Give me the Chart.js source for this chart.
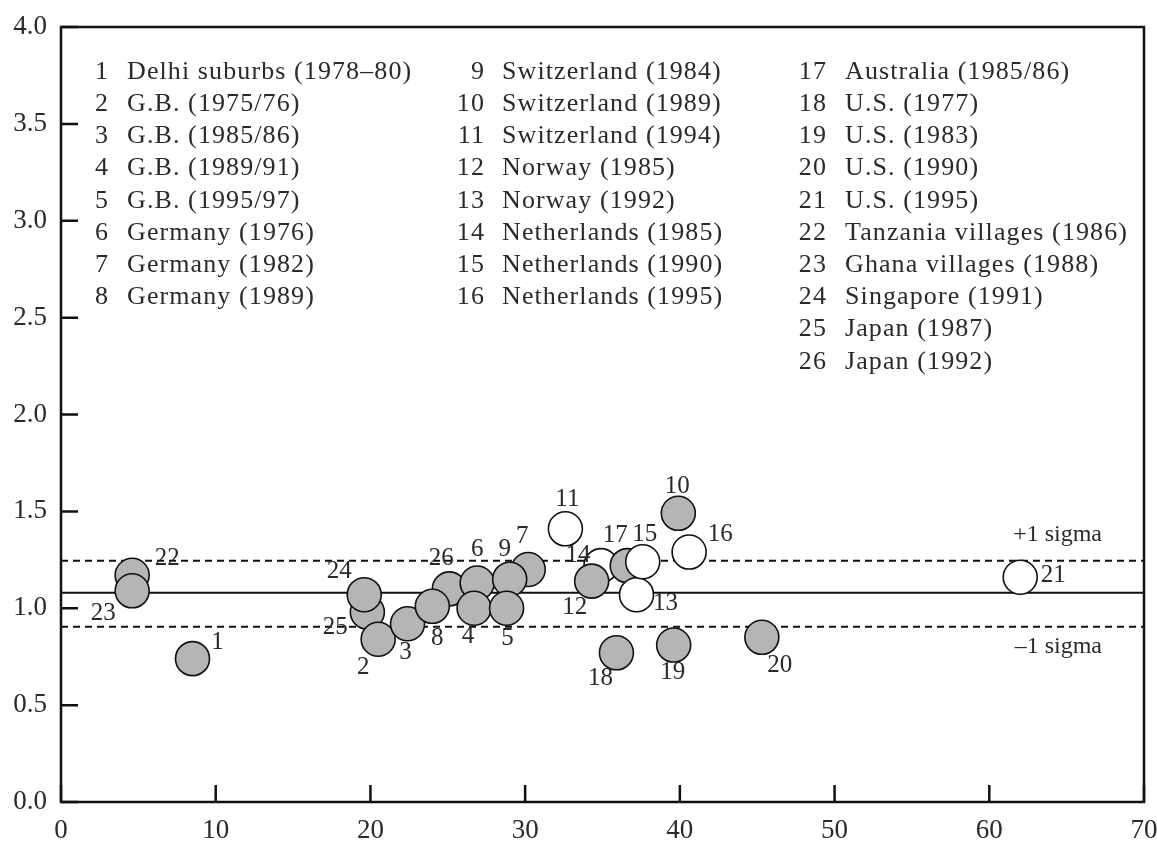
<!DOCTYPE html>
<html>
<head>
<meta charset="utf-8">
<title>Ratio by country</title>
<script src="https://cdn.jsdelivr.net/npm/chart.js@4/dist/chart.umd.min.js"></script>
<style>
  html, body { margin: 0; padding: 0; background: #fff; }
  #wrap { width: 1157px; height: 846px; position: relative; }
</style>
</head>
<body>
<div id="wrap"><canvas id="chart"></canvas></div>
<script>
/* ===== data ===== */

// survey names, in id order 1..26
const surveyNames = [
  'Delhi suburbs (1978\u201380)', 'G.B. (1975/76)', 'G.B. (1985/86)', 'G.B. (1989/91)',
  'G.B. (1995/97)', 'Germany (1976)', 'Germany (1982)', 'Germany (1989)',
  'Switzerland (1984)', 'Switzerland (1989)', 'Switzerland (1994)', 'Norway (1985)',
  'Norway (1992)', 'Netherlands (1985)', 'Netherlands (1990)', 'Netherlands (1995)',
  'Australia (1985/86)', 'U.S. (1977)', 'U.S. (1983)', 'U.S. (1990)', 'U.S. (1995)',
  'Tanzania villages (1986)', 'Ghana villages (1988)', 'Singapore (1991)',
  'Japan (1987)', 'Japan (1992)'
];

// points, listed in drawing order (later ones sit on top)
const pointIds = [22, 23, 1, 25, 24, 2, 3, 26, 8, 6, 4, 7, 9, 5, 11, 10, 14, 12, 17, 13, 15, 16, 18, 19, 20, 21];
const xValues  = [4.6, 4.6, 8.5, 19.8, 19.6, 20.5, 22.4, 25.1, 24.0, 26.9, 26.7, 30.2, 29.0, 28.8, 32.6, 39.9, 34.9, 34.3, 36.6, 37.2, 37.6, 40.6, 35.9, 39.6, 45.3, 62.0];
const yValues  = [1.17, 1.09, 0.74, 0.98, 1.07, 0.84, 0.92, 1.10, 1.01, 1.13, 1.00, 1.20, 1.15, 1.00, 1.41, 1.49, 1.22, 1.14, 1.22, 1.07, 1.24, 1.29, 0.77, 0.81, 0.85, 1.16];
const openIds  = [11, 13, 14, 15, 16, 21];

const meanLevel  = 1.08;
const upperSigma = 1.245;
const lowerSigma = 0.905;

const xTicks = [0, 10, 20, 30, 40, 50, 60, 70];
const yTicks = [0, 0.5, 1.0, 1.5, 2.0, 2.5, 3.0, 3.5, 4.0];

/* ===== look ===== */

const SERIF = '"Liberation Serif", "DejaVu Serif", serif';
const INK = '#2a2a2a';
const FILL = '#b5b5b5';

// where each number label sits relative to its circle (px)
const labelOffset = {
  1: [25, -16], 2: [-15, 28], 3: [-2, 29], 4: [-6, 28], 5: [1, 30],
  6: [0, -34], 7: [-6, -33], 8: [5, 32], 9: [-5, -30], 10: [-1, -27],
  11: [2, -29], 12: [-17, 26], 13: [29, 9], 14: [-23, -10], 15: [2, -27],
  16: [31, -18], 17: [-12, -30], 18: [-16, 26], 19: [-1, 27], 20: [18, 28],
  21: [33, -2], 22: [35, -17], 23: [-29, 23], 24: [-25, -23], 25: [-32, 15],
  26: [-8, -30]
};

const points = pointIds.map((id, i) => ({x: xValues[i], y: yValues[i], id: id}));
const pointFill = pointIds.map(id => openIds.includes(id) ? '#ffffff' : FILL);

function flatLine(v) {
  return [{x: xTicks[0], y: v}, {x: xTicks[xTicks.length - 1], y: v}];
}

// frame + inward tick marks
const framePlugin = {
  id: 'frame',
  afterDatasetsDraw(chart) {
    const {ctx, chartArea: a, scales} = chart;
    ctx.save();
    ctx.strokeStyle = '#111';
    ctx.lineWidth = 2.5;
    ctx.strokeRect(a.left, a.top, a.right - a.left, a.bottom - a.top);
    ctx.beginPath();
    scales.x.ticks.forEach(t => {
      const px = scales.x.getPixelForValue(t.value);
      ctx.moveTo(px, a.bottom);
      ctx.lineTo(px, a.bottom - 17);
    });
    scales.y.ticks.forEach(t => {
      const py = scales.y.getPixelForValue(t.value);
      ctx.moveTo(a.left, py);
      ctx.lineTo(a.left + 17, py);
    });
    ctx.stroke();
    ctx.restore();
  }
};

// numbers next to circles, sigma captions, the key
const textPlugin = {
  id: 'texts',
  afterDatasetsDraw(chart) {
    const {ctx, chartArea: a, scales} = chart;
    const meta = chart.getDatasetMeta(3);
    ctx.save();
    ctx.fillStyle = INK;
    ctx.textBaseline = 'middle';

    ctx.font = '25px ' + SERIF;
    ctx.textAlign = 'center';
    meta.data.forEach((el, i) => {
      const id = pointIds[i];
      const off = labelOffset[id] || [0, -28];
      ctx.fillText(String(id), el.x + off[0], el.y + off[1]);
    });

    ctx.font = '24px ' + SERIF;
    ctx.textAlign = 'right';
    ctx.fillText('+1 sigma', a.right - 42, scales.y.getPixelForValue(upperSigma) - 26);
    ctx.fillText('\u20131 sigma', a.right - 42, scales.y.getPixelForValue(lowerSigma) + 20);

    // key: three columns of 8, 8, 10
    const cols = [
      {from: 0, to: 8, numX: 109, textX: 127},
      {from: 8, to: 16, numX: 485, textX: 502},
      {from: 16, to: 26, numX: 827, textX: 845}
    ];
    ctx.font = '26px ' + SERIF;
    ctx.letterSpacing = '1.1px';
    cols.forEach(c => {
      for (let k = c.from; k < c.to; k++) {
        const y = 72 + (k - c.from) * 32.2;
        ctx.textAlign = 'right';
        ctx.fillText(String(k + 1), c.numX, y);
        ctx.textAlign = 'left';
        ctx.fillText(surveyNames[k], c.textX, y);
      }
    });
    ctx.restore();
  }
};

const ctx = document.getElementById('chart').getContext('2d');
new Chart(ctx, {
  type: 'scatter',
  data: {
    datasets: [
      { type: 'line', data: flatLine(meanLevel), borderColor: '#111', borderWidth: 2.2, pointRadius: 0, order: 3 },
      { type: 'line', data: flatLine(upperSigma), borderColor: '#111', borderWidth: 2, borderDash: [7, 5], pointRadius: 0, order: 3 },
      { type: 'line', data: flatLine(lowerSigma), borderColor: '#111', borderWidth: 2, borderDash: [7, 5], pointRadius: 0, order: 3 },
      {
        data: points,
        backgroundColor: pointFill,
        borderColor: '#111',
        borderWidth: 1.6,
        pointRadius: 17,
        pointHoverRadius: 17,
        order: 1
      }
    ]
  },
  options: {
    responsive: true,
    maintainAspectRatio: false,
    animation: false,
    events: [],
    layout: { autoPadding: false, padding: { top: 27, right: 13, left: 0, bottom: 0 } },
    plugins: { legend: { display: false }, tooltip: { enabled: false } },
    scales: {
      x: {
        type: 'linear',
        min: xTicks[0],
        max: xTicks[xTicks.length - 1],
        afterBuildTicks: s => { s.ticks = xTicks.map(v => ({value: v})); },
        afterFit: s => { s.height = 44; s.paddingRight = 0; s.paddingLeft = 0; },
        grid: { display: false, drawTicks: false },
        border: { display: false },
        ticks: { color: INK, font: { family: SERIF, size: 27 }, padding: 13, maxRotation: 0 }
      },
      y: {
        type: 'linear',
        min: yTicks[0],
        max: yTicks[yTicks.length - 1],
        afterBuildTicks: s => { s.ticks = yTicks.map(v => ({value: v})); },
        afterFit: s => { s.width = 61; s.paddingTop = 0; s.paddingBottom = 0; },
        grid: { display: false, drawTicks: false },
        border: { display: false },
        ticks: { color: INK, font: { family: SERIF, size: 27 }, padding: 14, callback: v => Number(v).toFixed(1) }
      }
    }
  },
  plugins: [framePlugin, textPlugin]
});
</script>
</body>
</html>
